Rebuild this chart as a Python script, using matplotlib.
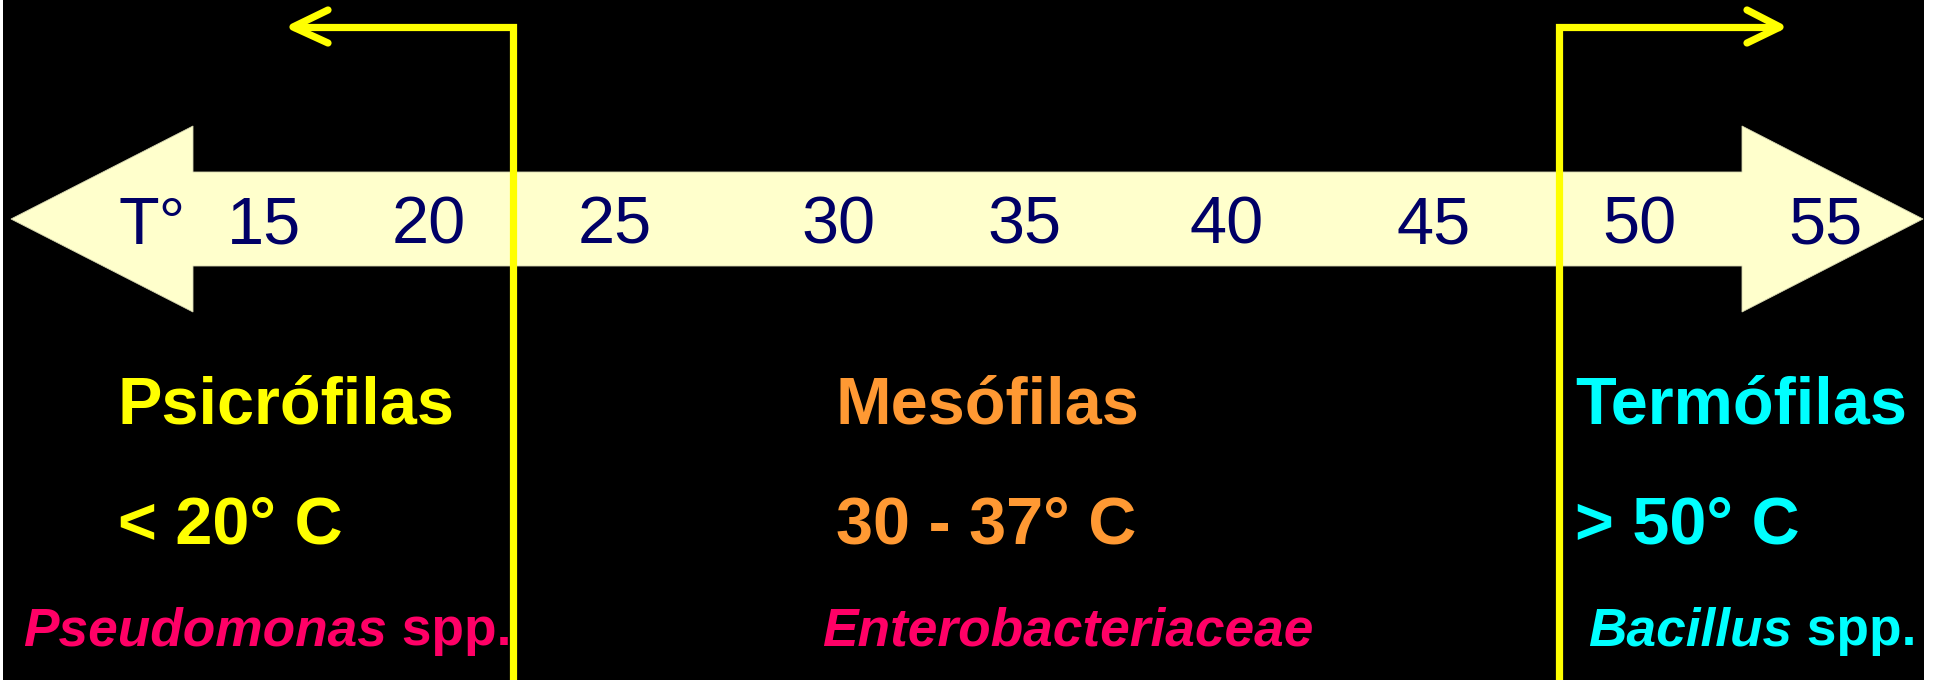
import matplotlib
matplotlib.use("Agg")
import matplotlib.pyplot as plt
from matplotlib.patches import Polygon, Rectangle

# ---- data ----
axis_title = "T°"
temp_labels = ["15", "20", "25", "30", "35", "40", "45", "50", "55"]
groups = ["Psicrófilas", "Mesófilas", "Termófilas"]
ranges = ["< 20° C", "30 - 37° C", "> 50° C"]
species_italic = ["Pseudomonas", "Enterobacteriaceae", "Bacillus"]
species_suffix = [" spp.", "", " spp."]

# ---- layout (pixel positions on the 1940x680 canvas) ----
W, H = 1940, 680
title_x = 152
temp_x = [264, 429, 615, 839, 1025, 1227, 1434, 1639, 1825]
temp_baseline = 244
group_x = [118, 836, 1575]
species_x = [23, 822, 1588]
row_baselines = [423, 543, 645]
divider_x = [513, 1559]
divider_top = 27
arrow_tips = [293, 1780]

FONT = ["Liberation Sans", "DejaVu Sans"]
NAVY = "#000066"
SHAFT = "#FFFFCC"
YELLOW = "#FFFF00"
group_colors = ["#FFFF00", "#FF9933", "#00FFFF"]
species_colors = ["#FF0066", "#FF0066", "#00FFFF"]
BIG = 48
SMALL = 38.3

fig = plt.figure(figsize=(W / 100, H / 100), dpi=100, facecolor="white")
ax = fig.add_axes([0, 0, 1, 1])
ax.set_xlim(0, W)
ax.set_ylim(H, 0)
ax.axis("off")

# black slide background
ax.add_patch(Rectangle((3, 0), 1921, H, facecolor="black", edgecolor="none", zorder=0))

# double-headed temperature arrow
y_mid, shaft_half, head_half = 219, 47, 93
x_left_tip, x_left_base, x_right_base, x_right_tip = 11, 193, 1742, 1923
pts = [
    (x_left_tip, y_mid),
    (x_left_base, y_mid - head_half),
    (x_left_base, y_mid - shaft_half),
    (x_right_base, y_mid - shaft_half),
    (x_right_base, y_mid - head_half),
    (x_right_tip, y_mid),
    (x_right_base, y_mid + head_half),
    (x_right_base, y_mid + shaft_half),
    (x_left_base, y_mid + shaft_half),
    (x_left_base, y_mid + head_half),
]
ax.add_patch(Polygon(pts, closed=True, facecolor=SHAFT, edgecolor="#D6D6B0",
                     linewidth=0.6, zorder=1))

# temperature labels
ax.text(title_x, temp_baseline, axis_title, ha="center", va="baseline",
        fontsize=BIG, color=NAVY, family=FONT, zorder=3)
for x, lab in zip(temp_x, temp_labels):
    ax.text(x, temp_baseline, lab, ha="center", va="baseline",
            fontsize=BIG, color=NAVY, family=FONT, zorder=3)

# yellow divider lines with open arrowheads
lw = 5.2
for dx, tip in zip(divider_x, arrow_tips):
    ax.plot([dx, dx, tip], [H + 5, divider_top, divider_top], color=YELLOW,
            linewidth=lw, solid_joinstyle="miter", solid_capstyle="butt", zorder=4)
    back = tip + 35 if tip < dx else tip - 33
    ax.plot([back, tip, back], [divider_top - 17, divider_top, divider_top + 16],
            color=YELLOW, linewidth=lw, solid_capstyle="round",
            solid_joinstyle="round", zorder=4)

# group names and ranges
for i in range(3):
    ax.text(group_x[i], row_baselines[0], groups[i], ha="left", va="baseline",
            fontsize=BIG, fontweight="bold", color=group_colors[i], family=FONT, zorder=3)
    ax.text(group_x[i], row_baselines[1], ranges[i], ha="left", va="baseline",
            fontsize=BIG, fontweight="bold", color=group_colors[i], family=FONT, zorder=3)

# species (italic name + upright suffix)
fig.canvas.draw()
renderer = fig.canvas.get_renderer()
inv = ax.transData.inverted()
for i in range(3):
    col = species_colors[i]
    t1 = ax.text(species_x[i], row_baselines[2], species_italic[i], ha="left",
                 va="baseline", fontsize=SMALL, fontweight="bold", fontstyle="italic",
                 color=col, family=FONT, zorder=3)
    if species_suffix[i]:
        bb = t1.get_window_extent(renderer)
        x_end = inv.transform((bb.x1, bb.y0))[0]
        ax.text(x_end, row_baselines[2], species_suffix[i], ha="left", va="baseline",
                fontsize=SMALL, fontweight="bold", color=col, family=FONT, zorder=3)

fig.savefig("out.png", dpi=100, facecolor="white")
